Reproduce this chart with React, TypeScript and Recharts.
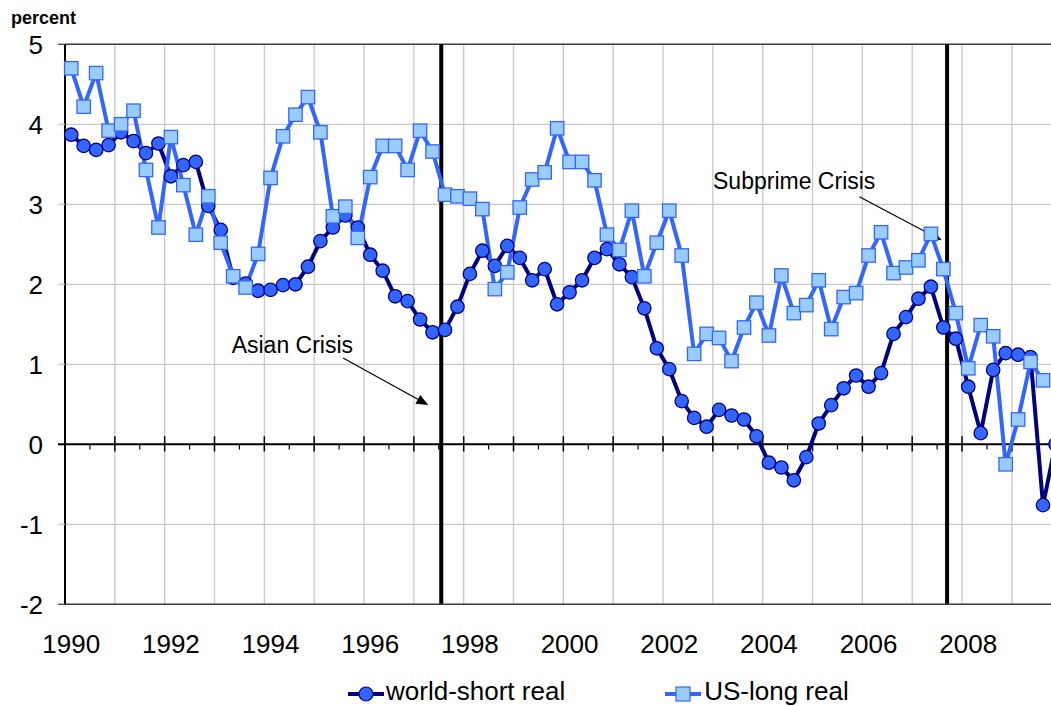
import React from 'react';
import { LineChart, Line, XAxis, YAxis, CartesianGrid, ReferenceLine, Legend } from 'recharts';

const FONT = '"Liberation Sans", Arial, sans-serif';

// quarterly data, 1990Q1 .. 2009Q4
const years = [1990, 1991, 1992, 1993, 1994, 1995, 1996, 1997, 1998, 1999,
  2000, 2001, 2002, 2003, 2004, 2005, 2006, 2007, 2008, 2009];
const quarters = years.flatMap(y => ['Q1', 'Q2', 'Q3', 'Q4'].map(q => `${y}${q}`));

const worldShort = [
  3.87, 3.73, 3.68, 3.74, 3.90, 3.79, 3.64, 3.76, 3.35, 3.49,
  3.53, 2.98, 2.68, 2.08, 2.01, 1.92, 1.93, 1.99, 2.00, 2.22,
  2.54, 2.71, 2.86, 2.71, 2.37, 2.17, 1.85, 1.79, 1.56, 1.40,
  1.43, 1.72, 2.13, 2.42, 2.23, 2.48, 2.33, 2.05, 2.19, 1.75,
  1.90, 2.05, 2.33, 2.44, 2.25, 2.09, 1.70, 1.20, 0.94, 0.54,
  0.33, 0.22, 0.43, 0.36, 0.31, 0.10, -0.23, -0.29, -0.45, -0.16,
  0.26, 0.49, 0.70, 0.86, 0.72, 0.89, 1.38, 1.59, 1.82, 1.97,
  1.46, 1.32, 0.72, 0.14, 0.93, 1.14, 1.12, 1.09, -0.76, 0.0,
];

const usLong: (number | null)[] = [
  4.70, 4.22, 4.64, 3.92, 4.00, 4.17, 3.43, 2.71, 3.84, 3.24,
  2.62, 3.10, 2.52, 2.10, 1.96, 2.38, 3.33, 3.85, 4.12, 4.34,
  3.90, 2.85, 2.97, 2.58, 3.34, 3.73, 3.73, 3.43, 3.92, 3.66,
  3.12, 3.10, 3.07, 2.94, 1.94, 2.15, 2.96, 3.31, 3.40, 3.95,
  3.53, 3.53, 3.30, 2.62, 2.43, 2.92, 2.10, 2.52, 2.92, 2.36,
  1.13, 1.38, 1.33, 1.04, 1.46, 1.77, 1.36, 2.11, 1.64, 1.74,
  2.05, 1.44, 1.84, 1.89, 2.36, 2.65, 2.14, 2.21, 2.30, 2.63,
  2.19, 1.64, 0.95, 1.49, 1.35, -0.25, 0.31, 1.03, 0.80, null,
];

const yTicks = [-2, -1, 0, 1, 2, 3, 4, 5];
const yearLabels = [1990, 1992, 1994, 1996, 1998, 2000, 2002, 2004, 2006, 2008];

// crisis dates, in quarter index units
const asianCrisisAt = 29.7;
const subprimeCrisisAt = 70.3;

const data = quarters.map((q, i) => ({ x: i, q, world: worldShort[i], us: usLong[i] }));

const xTicks = yearLabels.map(y => (y - years[0]) * 4);
const yearBounds = years.slice(1).map((_, k) => (k + 1) * 4 - 0.5);
const halfYears = years.map((_, k) => k * 4 + 1.5);

const NAVY = '#000080';
const BLUE = '#3366ff';
const LIGHT = '#99ccff';
const GRID = '#c8c8c8';

const YTick = ({ x, y, payload }: any) => {
  const v = payload.value;
  const col = v === 0 ? '#000' : v === 5 || v === -2 ? '#404040' : GRID;
  return (
    <g>
      <line x1={x + 15} x2={x + 22} y1={y} y2={y} stroke={col} strokeWidth={v === 0 ? 2 : 1.3} />
      <text x={x} y={y} dy="0.36em" textAnchor="end" fontSize={26} fontFamily={FONT} fill="#000">{v}</text>
    </g>
  );
};

const SquareDot = (props: any) => {
  const { cx, cy, index, value } = props;
  if (cx == null || cy == null || value == null) return <g key={`s${index}`} />;
  return <rect key={`s${index}`} x={cx - 6.7} y={cy - 6.7} width={13.4} height={13.4} fill={LIGHT} stroke={BLUE} strokeWidth={1.3} />;
};

const Arrow = (props: any) => {
  const { x1, y1, x2, y2, text, dx, dy } = props;
  if ([x1, y1, x2, y2].some(v => v == null || isNaN(v))) return <g />;
  const a = Math.atan2(y2 - y1, x2 - x1);
  const len = 12;
  const w = 5;
  const bx = x2 - len * Math.cos(a);
  const by = y2 - len * Math.sin(a);
  const px = -Math.sin(a) * w;
  const py = Math.cos(a) * w;
  return (
    <g>
      <line x1={x1} y1={y1} x2={bx} y2={by} stroke="#000" strokeWidth={1.2} />
      <polygon points={`${x2},${y2} ${bx + px},${by + py} ${bx - px},${by - py}`} fill="#000" />
      <text x={x1 + dx} y={y1 + dy} textAnchor="end" fontSize={23} fontFamily={FONT} fill="#000">{text}</text>
    </g>
  );
};

const LegendContent = () => (
  <div style={{ display: 'flex', alignItems: 'flex-start', height: 31, paddingLeft: 348, fontFamily: FONT, fontSize: 26, color: '#000' }}>
    <svg width={36} height={31} style={{ display: 'block' }}>
      <line x1={0} x2={36} y1={19} y2={19} stroke={NAVY} strokeWidth={4} />
      <circle cx={18} cy={19} r={7} fill={BLUE} stroke={NAVY} strokeWidth={1.2} />
    </svg>
    <span style={{ display: 'block', lineHeight: '31px', position: 'relative', top: 1, marginLeft: 2 }}>world-short real</span>
    <svg width={36} height={31} style={{ display: 'block', marginLeft: 100 }}>
      <line x1={0} x2={36} y1={19} y2={19} stroke={BLUE} strokeWidth={4} />
      <rect x={11} y={12} width={14} height={14} fill={LIGHT} stroke={BLUE} strokeWidth={1.2} />
    </svg>
    <span style={{ display: 'block', lineHeight: '31px', position: 'relative', top: 1, marginLeft: 3 }}>US-long real</span>
  </div>
);

const PercentLabel = ({ viewBox }: any) => (
  <text x={viewBox.x + 6} y={viewBox.y - 20.3} fontSize={18} fontWeight="bold" fontFamily={FONT} fill="#000">percent</text>
);

export default function App() {
  return (
    <div style={{ position: 'fixed', left: 0, top: 0, width: 1051, height: 706, overflow: 'hidden', background: '#fff', fontFamily: FONT }}>
      <LineChart width={1070} height={706} data={data} margin={{ top: 44.3, right: 8.3, bottom: 0, left: 5 }}>
        <CartesianGrid vertical={false} stroke={GRID} strokeWidth={1.3} />
        {yearBounds.map(x => (
          <ReferenceLine key={`g${x}`} x={x} stroke={GRID} strokeWidth={1.3} />
        ))}
        <ReferenceLine y={5} stroke="#404040" strokeWidth={1.5} />
        <ReferenceLine x={asianCrisisAt} stroke="#000" strokeWidth={4} />
        <ReferenceLine x={subprimeCrisisAt} stroke="#000" strokeWidth={4} />
        <ReferenceLine y={0} stroke="#000" strokeWidth={2} />
        {yearBounds.map(x => (
          <ReferenceLine key={`M${x}`} segment={[{ x, y: -0.09 }, { x, y: 0.1 }]} stroke="#000" strokeWidth={1.5} />
        ))}
        {halfYears.map(x => (
          <ReferenceLine key={`m${x}`} segment={[{ x, y: 0 }, { x, y: -0.065 }]} stroke="#000" strokeWidth={1.2} />
        ))}
        <XAxis
          dataKey="x"
          type="number"
          domain={[-0.5, 79.5]}
          ticks={xTicks}
          interval={0}
          tickFormatter={(v: number) => String(years[0] + v / 4)}
          tickLine={false}
          tickSize={0}
          tickMargin={30}
          height={70.7}
          axisLine={{ stroke: '#404040', strokeWidth: 1.5 }}
          tick={{ fontSize: 26, fill: '#000', fontFamily: FONT }}
        />
        <YAxis
          domain={[-2, 5]}
          ticks={yTicks}
          interval={0}
          width={60}
          tickLine={false}
          tickSize={7}
          tickMargin={15}
          axisLine={{ stroke: '#000', strokeWidth: 2 }}
          tick={<YTick />}
          label={<PercentLabel />}
        />
        <Legend verticalAlign="bottom" wrapperStyle={{ left: 0, width: 1051 }} content={<LegendContent />} />
        <Line
          dataKey="world"
          stroke={NAVY}
          strokeWidth={4}
          dot={{ r: 6.7, fill: BLUE, stroke: NAVY, strokeWidth: 1.3 }}
          activeDot={false}
          isAnimationActive={false}
        />
        <Line
          dataKey="us"
          stroke={BLUE}
          strokeWidth={4}
          dot={<SquareDot />}
          activeDot={false}
          isAnimationActive={false}
        />
        <ReferenceLine
          segment={[{ x: 21.82, y: 1.08 }, { x: 28.66, y: 0.49 }]}
          shape={(p: any) => <Arrow {...p} text="Asian Crisis" dx={10} dy={-5} />}
        />
        <ReferenceLine
          segment={[{ x: 63.26, y: 3.095 }, { x: 69.87, y: 2.55 }]}
          shape={(p: any) => <Arrow {...p} text="Subprime Crisis" dx={16} dy={-8} />}
        />
      </LineChart>
    </div>
  );
}
